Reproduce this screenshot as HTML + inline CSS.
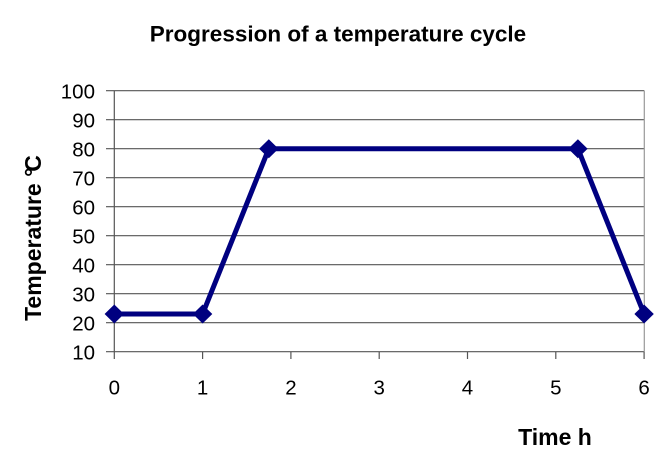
<!DOCTYPE html>
<html><head><meta charset="utf-8"><style>
html,body{margin:0;padding:0;background:#fff;}
svg{display:block;}
text{font-family:"Liberation Sans",Arial,sans-serif;fill:#000;}
</style></head><body>
<svg width="662" height="456" viewBox="0 0 662 456" xmlns="http://www.w3.org/2000/svg">
<rect width="662" height="456" fill="#fff"/>
<text x="338" y="41.5" font-size="22.5" font-weight="bold" text-anchor="middle">Progression of a temperature cycle</text>
<g stroke="#555" stroke-width="1.2" fill="none">
<line x1="106" y1="90.7" x2="644.3" y2="90.7"/>
<line x1="106" y1="119.7" x2="644.3" y2="119.7"/>
<line x1="106" y1="148.7" x2="644.3" y2="148.7"/>
<line x1="106" y1="177.7" x2="644.3" y2="177.7"/>
<line x1="106" y1="206.7" x2="644.3" y2="206.7"/>
<line x1="106" y1="235.7" x2="644.3" y2="235.7"/>
<line x1="106" y1="264.7" x2="644.3" y2="264.7"/>
<line x1="106" y1="293.7" x2="644.3" y2="293.7"/>
<line x1="106" y1="322.7" x2="644.3" y2="322.7"/>
<line x1="106" y1="351.7" x2="644.3" y2="351.7"/>
<line x1="114.3" y1="90.7" x2="114.3" y2="359"/>
<line x1="202.6" y1="351.7" x2="202.6" y2="359"/>
<line x1="290.9" y1="351.7" x2="290.9" y2="359"/>
<line x1="379.2" y1="351.7" x2="379.2" y2="359"/>
<line x1="467.5" y1="351.7" x2="467.5" y2="359"/>
<line x1="555.8" y1="351.7" x2="555.8" y2="359"/>
<line x1="644.1" y1="351.7" x2="644.1" y2="359"/>
</g>
<line x1="644.3" y1="90.7" x2="644.3" y2="351.7" stroke="#999" stroke-width="1.2"/>
<g font-size="20.5" text-anchor="end">
<text x="95" y="98.3">100</text>
<text x="95" y="127.3">90</text>
<text x="95" y="156.3">80</text>
<text x="95" y="185.3">70</text>
<text x="95" y="214.3">60</text>
<text x="95" y="243.3">50</text>
<text x="95" y="272.3">40</text>
<text x="95" y="301.3">30</text>
<text x="95" y="330.3">20</text>
<text x="95" y="359.3">10</text>
</g>
<g font-size="20.5" text-anchor="middle">
<text x="114.3" y="394.5">0</text>
<text x="202.6" y="394.5">1</text>
<text x="290.9" y="394.5">2</text>
<text x="379.2" y="394.5">3</text>
<text x="467.5" y="394.5">4</text>
<text x="555.8" y="394.5">5</text>
<text x="644.1" y="394.5">6</text>
</g>
<text x="555" y="445" font-size="23" font-weight="bold" text-anchor="middle">Time h</text>
<text transform="translate(41,238) rotate(-90)" font-size="23" font-weight="bold" text-anchor="middle">Temperature °<tspan dx="-4">C</tspan></text>
<polyline points="114.3,314 202.6,314 268.8,148.7 577.9,148.7 644.1,314" fill="none" stroke="#000080" stroke-width="5" stroke-linejoin="round"/>
<g fill="#000080">
<polygon points="114.3,304.5 124,314 114.3,323.5 104.6,314"/>
<polygon points="202.6,304.5 212.3,314 202.6,323.5 192.9,314"/>
<polygon points="268.8,139.2 278.5,148.7 268.8,158.2 259.1,148.7"/>
<polygon points="577.9,139.2 587.6,148.7 577.9,158.2 568.2,148.7"/>
<polygon points="644.1,304.5 653.8,314 644.1,323.5 634.4,314"/>
</g>
</svg>
</body></html>
